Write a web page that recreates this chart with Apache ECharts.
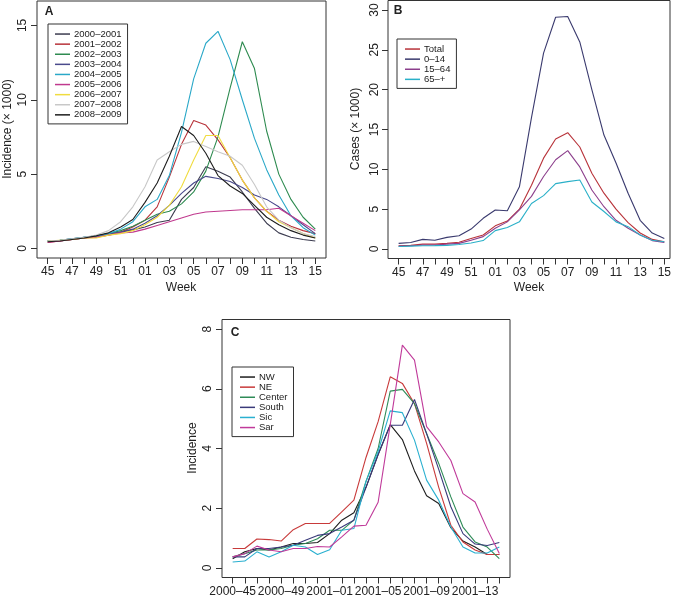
<!DOCTYPE html>
<html>
<head>
<meta charset="utf-8">
<script src="https://cdn.jsdelivr.net/npm/echarts@6/dist/echarts.min.js"></script>
<style>
  html, body { margin: 0; padding: 0; background: #fff; }
  #chart { width: 676px; height: 600px; }
</style>
</head>
<body>
<div id="chart"></div>
<script>
// ---- tick labels ----
const weeks = ['45', '46', '47', '48', '49', '50', '51', '52', '01', '02', '03', '04',
  '05', '06', '07', '08', '09', '10', '11', '12', '13', '14', '15'];
const seasonWeeks = ['2000–45', '2000–46', '2000–47', '2000–48', '2000–49', '2000–50', '2000–51', '2000–52',
  '2001–01', '2001–02', '2001–03', '2001–04', '2001–05', '2001–06', '2001–07', '2001–08',
  '2001–09', '2001–10', '2001–11', '2001–12', '2001–13', '2001–14', '2001–15'];

// ---- panel A: incidence (x 1000) by season ----
const seasons = ['2000–2001', '2001–2002', '2002–2003', '2003–2004', '2004–2005',
  '2005–2006', '2006–2007', '2007–2008', '2008–2009'];
const inc0001 = [0.5, 0.5, 0.6, 0.7, 0.8, 0.95, 1.1, 1.25, 1.45, 1.75, 1.9, 3.3, 4.1, 5.5, 5.2, 4.8, 3.8, 2.7, 1.7, 1.05, 0.75, 0.6, 0.5];
const inc0102 = [0.4, 0.5, 0.6, 0.7, 0.8, 0.9, 1.1, 1.45, 1.9, 2.8, 4.8, 7.0, 8.6, 8.3, 7.3, 6.1, 4.6, 3.4, 2.5, 1.9, 1.5, 1.2, 1.0];
const inc0203 = [0.5, 0.55, 0.65, 0.75, 0.85, 1.0, 1.2, 1.5, 1.9, 2.3, 2.5, 3.0, 3.8, 5.2, 7.5, 10.8, 13.9, 12.1, 7.9, 5.0, 3.3, 2.1, 1.3];
const inc0304 = [0.5, 0.55, 0.65, 0.75, 0.85, 0.95, 1.1, 1.3, 1.7, 2.2, 2.9, 3.7, 4.4, 4.85, 4.7, 4.5, 4.1, 3.6, 3.3, 2.8, 2.2, 1.6, 1.0];
const inc0405 = [0.5, 0.55, 0.65, 0.75, 0.85, 1.0, 1.3, 1.8, 2.8, 3.3, 4.9, 7.8, 11.4, 13.8, 14.6, 12.7, 10.0, 7.4, 5.3, 3.6, 2.2, 1.4, 0.9];
const inc0506 = [0.4, 0.5, 0.6, 0.7, 0.75, 0.9, 1.05, 1.1, 1.3, 1.55, 1.8, 2.05, 2.3, 2.45, 2.5, 2.55, 2.6, 2.6, 2.6, 2.7, 2.2, 1.7, 1.2];
const inc0607 = [0.5, 0.55, 0.6, 0.7, 0.7, 0.9, 1.0, 1.2, 1.6, 2.1, 2.9, 4.15, 5.95, 7.6, 7.6, 6.1, 4.6, 3.4, 2.5, 1.8, 1.4, 1.0, 0.7];
const inc0708 = [0.5, 0.55, 0.65, 0.75, 0.9, 1.2, 1.8, 2.8, 4.15, 5.95, 6.5, 7.0, 7.2, 6.85, 6.5, 6.2, 5.6, 4.3, 2.8, 1.9, 1.4, 1.0, 0.8];
const inc0809 = [0.45, 0.5, 0.6, 0.7, 0.85, 1.05, 1.45, 1.95, 3.1, 4.4, 6.2, 8.2, 7.6, 6.4, 4.9, 4.2, 3.7, 2.9, 2.1, 1.6, 1.2, 0.9, 0.7];
const seasonColors = ['#3c3c50', '#b8333a', '#2e8b50', '#4a4a8c', '#2aa8c8', '#c0398e', '#f0dc40', '#c8c8c8', '#1e1e1e'];

// ---- panel B: cases (x 1000) by age group ----
const ageGroups = ['Total', '0–14', '15–64', '65–+'];
const casesTotal = [0.4, 0.45, 0.6, 0.6, 0.7, 0.85, 1.3, 1.75, 2.9, 3.5, 5.0, 8.0, 11.4, 13.8, 14.6, 12.8, 9.5, 7.0, 5.0, 3.3, 2.0, 1.2, 0.9];
const cases0014 = [0.7, 0.8, 1.2, 1.1, 1.45, 1.65, 2.5, 3.85, 4.9, 4.8, 7.8, 16.5, 24.6, 29.1, 29.2, 26.0, 20.0, 14.3, 10.8, 7.0, 3.6, 2.0, 1.3];
const cases1564 = [0.35, 0.4, 0.5, 0.5, 0.6, 0.7, 1.1, 1.55, 2.6, 3.4, 4.9, 6.6, 9.1, 11.2, 12.35, 10.3, 7.4, 5.3, 3.6, 2.6, 1.76, 1.05, 0.8];
const cases65 = [0.3, 0.35, 0.4, 0.42, 0.45, 0.55, 0.75, 1.05, 2.3, 2.7, 3.4, 5.7, 6.7, 8.2, 8.45, 8.65, 5.9, 4.7, 3.4, 2.8, 1.75, 1.1, 0.9];
const ageColors = ['#b8333a', '#3a3a6e', '#8c3f8c', '#2ab0c8'];

// ---- panel C: incidence by region, 2000-2001 ----
const regions = ['NW', 'NE', 'Center', 'South', 'Sic', 'Sar'];
const incNW = [0.31, 0.54, 0.65, 0.6, 0.7, 0.82, 0.82, 0.85, 1.15, 1.6, 1.85, 2.7, 3.8, 4.8, 4.3, 3.25, 2.42, 2.16, 1.35, 0.9, 0.7, 0.45, 0.45];
const incNE = [0.65, 0.65, 0.97, 0.95, 0.9, 1.28, 1.49, 1.49, 1.49, 1.88, 2.27, 3.7, 4.9, 6.4, 6.18, 5.5, 4.17, 2.7, 1.43, 0.87, 0.6, 0.45, 0.45];
const incCenter = [0.37, 0.48, 0.6, 0.6, 0.65, 0.76, 0.82, 0.98, 1.26, 1.26, 1.6, 2.9, 4.0, 5.92, 5.98, 5.5, 4.5, 3.5, 2.38, 1.37, 0.87, 0.7, 0.31];
const incSouth = [0.37, 0.37, 0.65, 0.65, 0.7, 0.76, 0.93, 1.09, 1.15, 1.37, 1.6, 2.7, 3.8, 4.78, 4.78, 5.64, 4.5, 3.3, 2.05, 1.15, 0.8, 0.75, 0.85];
const incSic = [0.2, 0.23, 0.54, 0.37, 0.54, 0.76, 0.7, 0.45, 0.61, 1.26, 1.32, 2.9, 3.9, 5.26, 5.2, 4.28, 2.94, 2.27, 1.37, 0.7, 0.5, 0.5, 0.7];
const incSar = [0.37, 0.48, 0.73, 0.6, 0.54, 0.65, 0.65, 0.72, 0.7, 1.04, 1.4, 1.43, 2.2, 4.8, 7.46, 6.96, 4.73, 4.22, 3.6, 2.49, 2.21, 1.3, 0.48];
const regionColors = ['#1e1e1e', '#c83a3a', '#2e8b57', '#3a3a7a', '#2ab0d0', '#c03a9a'];

// ---- y ticks ----
const yTicksA = [0, 5, 10, 15];
const yTicksB = [0, 5, 10, 15, 20, 25, 30];
const yTicksC = [0, 2, 4, 6, 8];

const FONT = '"Liberation Sans", Arial, Helvetica, sans-serif';
const INK = '#222';

const allIdx = weeks.map((w, i) => i);

function xAxis(gridIndex, labelIdx, labels, max) {
    return {
        type: 'value', gridIndex, min: -0.88, max: max || 22.88,
        axisLine: { show: false, onZero: false },
        splitLine: { show: false },
        axisTick: { customValues: allIdx, length: 6, lineStyle: { color: '#333' } },
        axisLabel: {
            customValues: labelIdx, margin: 8, color: INK, fontSize: 12, fontFamily: FONT,
            formatter: v => labels[Math.round(v)],
        },
    };
}

function yAxis(gridIndex, min, max, ticks, margin) {
    return {
        type: 'value', gridIndex, min, max,
        axisLine: { show: false, onZero: false },
        splitLine: { show: false },
        axisTick: { customValues: ticks, length: 6, lineStyle: { color: '#333' } },
        axisLabel: { customValues: ticks, rotate: 90, margin, color: INK, fontSize: 12, fontFamily: FONT },
    };
}

function lines(names, arrays, colors, axisIndex) {
    return names.map((name, k) => ({
        name, type: 'line', xAxisIndex: axisIndex, yAxisIndex: axisIndex,
        data: arrays[k].map((v, i) => [i, v]),
        showSymbol: false, symbol: 'none', silent: true,
        lineStyle: { color: colors[k], width: 1.1 }, itemStyle: { color: colors[k] },
    }));
}

function legend(names, left, top, pad) {
    return {
        data: names, orient: 'vertical', left, top, padding: pad,
        icon: 'rect', itemWidth: 15, itemHeight: 1.5, itemGap: 0,
        borderColor: '#333', borderWidth: 1, selectedMode: false,
        textStyle: { fontSize: 9.5, lineHeight: 10.1, color: INK, fontFamily: FONT, padding: [0, 0, 0, -1] },
    };
}

function txt(text, x, y, opts) {
    return {
        type: 'text', x, y, rotation: (opts && opts.rot) || 0,
        style: {
            text, fill: INK, font: ((opts && opts.bold) ? 'bold ' : '') + ((opts && opts.size) || 12) + 'px ' + FONT,
            textAlign: 'center', textVerticalAlign: 'middle',
        },
    };
}

const gridStyle = { show: true, borderColor: '#333', borderWidth: 1, backgroundColor: 'transparent' };

const chart = echarts.init(document.getElementById('chart'), null, { renderer: 'canvas' });
chart.setOption({
    animation: false,
    backgroundColor: '#fff',
    grid: [
        Object.assign({ left: 37, top: 1, width: 289, height: 257 }, gridStyle),
        Object.assign({ left: 388, top: 0.5, width: 282, height: 258 }, gridStyle),
        Object.assign({ left: 222, top: 319.5, width: 288, height: 258 }, gridStyle),
    ],
    xAxis: [
        xAxis(0, [0, 2, 4, 6, 8, 10, 12, 14, 16, 18, 20, 22], weeks),
        xAxis(1, [0, 2, 4, 6, 8, 10, 12, 14, 16, 18, 20, 22], weeks, 22.47),
        xAxis(2, [0, 4, 8, 12, 16, 20], seasonWeeks),
    ],
    yAxis: [
        yAxis(0, -0.64, 16.64, yTicksA, 8),
        yAxis(1, -1.2, 31.2, yTicksB, 7),
        yAxis(2, -0.32, 8.32, yTicksC, 8),
    ],
    legend: [
        legend(seasons, 48, 24, [5, 6, 4, 7]),
        legend(ageGroups, 397, 39, [5, 6, 4, 8]),
        legend(regions, 232, 367, [5, 6, 4, 8]),
    ],
    series: [
        ...lines(seasons, [inc0001, inc0102, inc0203, inc0304, inc0405, inc0506, inc0607, inc0708, inc0809], seasonColors, 0),
        ...lines(ageGroups, [casesTotal, cases0014, cases1564, cases65], ageColors, 1),
        ...lines(regions, [incNW, incNE, incCenter, incSouth, incSic, incSar], regionColors, 2),
    ],
    graphic: [
        txt('A', 49, 11.5, { bold: true, size: 12 }),
        txt('B', 398, 11, { bold: true, size: 12 }),
        txt('C', 235, 333, { bold: true, size: 12 }),
        txt('Week', 181, 288),
        txt('Week', 529, 288),
        txt('Incidence (× 1000)', 8, 129, { rot: Math.PI / 2 }),
        txt('Cases (× 1000)', 356, 129, { rot: Math.PI / 2 }),
        txt('Incidence', 193, 448, { rot: Math.PI / 2 }),
    ],
});
</script>
</body>
</html>
